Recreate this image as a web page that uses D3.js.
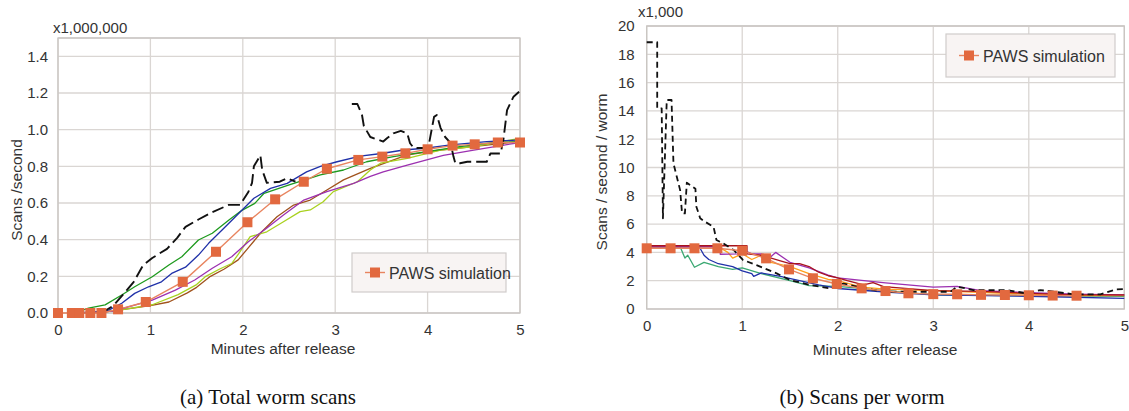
<!DOCTYPE html>
<html><head><meta charset="utf-8">
<script src="https://cdn.jsdelivr.net/npm/d3@7"></script>
<style>
body{margin:0;background:#fff;}
svg text{font-family:"Liberation Sans",Arial,Helvetica,sans-serif;}
</style></head>
<body><svg id="c" width="1129" height="411"></svg>
<script>
// ---------- Chart (a): total worm scans (x1,000,000) ----------
const aXTicks = [0,1,2,3,4,5];
const aYTicks = [0,0.2,0.4,0.6,0.8,1.0,1.2,1.4];
const aPaws = [[0,0],[0.15,0],[0.23,0],[0.35,0],[0.47,0],[0.65,0.02],[0.95,0.06],[1.35,0.17],[1.71,0.334],[2.05,0.495],[2.35,0.62],[2.66,0.716],[2.91,0.787],[3.25,0.835],[3.51,0.853],[3.76,0.871],[4.0,0.893],[4.27,0.913],[4.51,0.92],[4.76,0.93],[5.0,0.93]];
const aBlack = [[0.47,0],[0.6,0.04],[0.73,0.116],[0.82,0.17],[0.92,0.26],[1.02,0.30],[1.18,0.35],[1.29,0.41],[1.38,0.47],[1.52,0.51],[1.67,0.55],[1.85,0.59],[1.97,0.59],[2.06,0.66],[2.1,0.71],[2.12,0.80],[2.19,0.86],[2.21,0.78],[2.26,0.71],[2.40,0.716],[2.48,0.735],[2.57,0.716],null,[3.18,1.14],[3.24,1.14],[3.29,1.08],[3.31,1.02],[3.38,0.96],[3.52,0.935],[3.56,0.953],[3.63,0.98],[3.71,0.993],[3.78,0.98],[3.81,0.926],[3.85,0.90],[3.96,0.90],[4.01,0.91],[4.07,1.07],[4.10,1.08],[4.14,1.01],[4.19,0.96],[4.25,0.926],[4.28,0.853],[4.30,0.817],[4.35,0.817],[4.43,0.825],[4.64,0.825],[4.68,0.87],[4.79,0.87],[4.82,0.944],[4.86,1.107],[4.93,1.18],[4.99,1.207]];
const aBlue = [[0.15,0],[0.4,0.005],[0.55,0.016],[0.69,0.053],[0.83,0.107],[0.98,0.143],[1.12,0.17],[1.23,0.216],[1.38,0.25],[1.52,0.316],[1.63,0.38],[1.77,0.45],[1.92,0.525],[2.12,0.626],[2.3,0.68],[2.48,0.707],[2.69,0.77],[2.84,0.80],[3.02,0.825],[3.27,0.856],[3.5,0.87],[3.74,0.889],[4.0,0.90],[4.25,0.917],[4.64,0.935],[5.0,0.944]];
const aGreen = [[0.18,0],[0.33,0.026],[0.51,0.044],[0.69,0.098],[0.83,0.143],[1.02,0.198],[1.20,0.262],[1.34,0.307],[1.52,0.398],[1.67,0.435],[1.85,0.507],[1.99,0.56],[2.13,0.598],[2.23,0.653],[2.51,0.70],[2.84,0.753],[3.09,0.78],[3.34,0.825],[3.63,0.853],[3.99,0.88],[4.35,0.907],[4.72,0.93],[5.0,0.935]];
const aPurple = [[0.2,0],[0.6,0.01],[1.02,0.07],[1.27,0.125],[1.48,0.18],[1.67,0.244],[1.88,0.307],[2.06,0.389],[2.25,0.46],[2.44,0.535],[2.66,0.616],[2.91,0.662],[3.2,0.707],[3.38,0.745],[3.52,0.77],[3.78,0.807],[4.17,0.86],[4.50,0.889],[5.0,0.93]];
const aYellow = [[0.2,0],[0.6,0.01],[1.02,0.045],[1.3,0.10],[1.5,0.155],[1.6,0.2],[1.75,0.24],[1.88,0.27],[1.95,0.32],[2.08,0.416],[2.26,0.443],[2.44,0.498],[2.62,0.553],[2.73,0.562],[2.87,0.607],[2.98,0.662],[3.24,0.716],[3.38,0.78],[3.49,0.817],[3.78,0.844],[4.14,0.889],[4.5,0.907],[5.0,0.953]];
const aBrown = [[0.2,0],[0.5,0.005],[1.0,0.04],[1.2,0.06],[1.4,0.11],[1.5,0.14],[1.65,0.2],[1.8,0.24],[1.95,0.29],[2.05,0.35],[2.2,0.44],[2.37,0.525],[2.55,0.589],[2.73,0.616],[2.91,0.671],[3.09,0.726],[3.38,0.789],[3.78,0.862],[4.14,0.889],[5.0,0.935]];

// ---------- Chart (b): scans per worm (x1,000) ----------
const bXTicks = [0,1,2,3,4,5];
const bYTicks = [0,2,4,6,8,10,12,14,16,18,20];
const bPaws = [[0,4.29],[0.25,4.29],[0.5,4.29],[0.74,4.29],[1.0,4.12],[1.25,3.58],[1.49,2.8],[1.74,2.17],[1.99,1.77],[2.25,1.46],[2.5,1.27],[2.74,1.11],[3.0,1.05],[3.25,1.04],[3.5,1.0],[3.75,0.99],[4.0,0.97],[4.25,0.95],[4.5,0.94]];
const bBlack = [[0,18.85],[0.11,18.85],[0.11,14.18],[0.157,14.18],[0.17,6.41],[0.21,14.77],[0.26,14.77],[0.28,10.3],[0.35,8.4],[0.37,6.76],[0.40,6.76],[0.42,8.93],[0.51,8.5],[0.52,7.23],[0.56,6.41],[0.61,6.17],[0.70,5.8],[0.73,4.88],[0.80,4.64],[0.91,4.17],[1.01,3.46],[1.15,3.1],[1.36,2.52],[1.5,2.05],[1.71,1.70],[1.92,1.46],[2.06,1.8],[2.25,1.5],[2.48,1.22],[2.72,1.22],[3.18,1.22],[3.25,1.58],[3.42,1.34],[3.77,1.34],[3.98,1.1],[4.12,1.34],[4.47,1.04],[4.75,1.04],[4.92,1.39],[5.0,1.41]];
const bDarkRed = [[0,4.47],[1.05,4.47],[1.05,3.9],[1.2,3.8],[1.4,3.4],[1.5,3.2],[1.6,3.2],[1.7,3.0],[1.8,2.6],[1.9,2.35],[2.0,2.2],[2.1,2.0],[2.27,1.7],[2.37,1.86],[2.48,1.58],[3.0,1.3],[3.5,1.25],[4.0,1.1],[4.5,1.0],[5.0,1.0]];
const bPurple = [[0,4.4],[0.77,4.4],[0.77,3.87],[0.95,3.9],[1.0,4.2],[1.1,3.9],[1.2,3.9],[1.3,3.7],[1.35,4.0],[1.5,3.3],[1.7,2.9],[1.9,2.4],[2.0,2.2],[2.5,1.85],[3.0,1.55],[3.25,1.6],[3.5,1.3],[4.0,1.15],[4.5,1.05],[5.0,1.0]];
const bOrange = [[0,4.4],[0.75,4.4],[0.85,4.0],[0.9,3.6],[1.0,3.9],[1.1,3.5],[1.2,3.8],[1.3,3.3],[1.5,3.0],[1.7,2.5],[1.9,2.1],[2.0,2.0],[2.25,1.55],[2.5,1.4],[3.0,1.3],[4.0,1.05],[4.5,0.95],[5.0,0.95]];
const bTeal = [[0,4.4],[0.35,4.4],[0.4,3.6],[0.43,3.8],[0.5,2.95],[0.6,3.3],[0.75,3.0],[0.9,2.8],[1.0,2.9],[1.2,2.5],[1.5,2.0],[1.7,1.65],[2.0,1.6],[2.5,1.3],[3.0,1.0],[4.0,0.95],[5.0,0.9]];
const bBlue = [[0,4.4],[0.55,4.4],[0.6,3.8],[0.65,3.5],[0.75,3.2],[0.9,3.0],[1.0,2.7],[1.1,2.5],[1.12,2.3],[1.2,2.55],[1.4,2.3],[1.6,2.0],[1.8,1.7],[2.0,1.45],[2.5,1.2],[3.0,1.0],[4.0,0.9],[5.0,0.75]];

const legendLabel = "PAWS simulation";

const svg = d3.select("#c");
const gridCol = "#dad6d3", frameCol = "#c9c5c2", txtCol = "#333";

function panel(cfg){
  const x = d3.scaleLinear().domain([0,5]).range(cfg.xr);
  const y = d3.scaleLinear().domain(cfg.yd).range(cfg.yr);
  const g = svg.append("g");
  g.selectAll(".gx").data(cfg.xt).join("line")
    .attr("x1",d=>x(d)).attr("x2",d=>x(d)).attr("y1",cfg.yr[0]).attr("y2",cfg.yr[1])
    .attr("stroke",gridCol).attr("stroke-width",1.3);
  g.selectAll(".gy").data(cfg.yt.concat([cfg.yd[1]])).join("line")
    .attr("x1",cfg.xr[0]).attr("x2",cfg.xr[1]).attr("y1",d=>y(d)).attr("y2",d=>y(d))
    .attr("stroke",gridCol).attr("stroke-width",1.3);
  g.append("rect").attr("x",cfg.xr[0]).attr("y",cfg.yr[1]).attr("width",cfg.xr[1]-cfg.xr[0]).attr("height",cfg.yr[0]-cfg.yr[1])
    .attr("fill","none").attr("stroke",frameCol).attr("stroke-width",1.3);
  const xa = g.append("g").attr("transform",`translate(0,${cfg.yr[0]})`)
    .call(d3.axisBottom(x).tickValues(cfg.xt).tickFormat(d3.format("d")).tickSize(0).tickPadding(cfg.xpad));
  const ya = g.append("g").attr("transform",`translate(${cfg.xr[0]},0)`)
    .call(d3.axisLeft(y).tickValues(cfg.yt).tickFormat(cfg.yf).tickSize(0).tickPadding(cfg.ypad));
  [xa,ya].forEach(a=>{a.select(".domain").remove();
    a.selectAll("text").attr("fill",txtCol).style("font-size","15px").style("font-family","'Liberation Sans',Arial,sans-serif");});
  const line = d3.line().defined(d=>d!==null).x(d=>x(d[0])).y(d=>y(d[1]));
  cfg.series.forEach(s=>{
    g.append("path").datum(s.data).attr("d",line).attr("fill","none")
      .attr("stroke",s.color).attr("stroke-width",s.w||1.3)
      .attr("stroke-dasharray",s.dash||null).attr("stroke-linejoin","round");
  });
  g.append("path").datum(cfg.paws).attr("d",line).attr("fill","none").attr("stroke","#e8845f").attr("stroke-width",1.4);
  g.selectAll(".m").data(cfg.paws).join("rect")
    .attr("x",d=>x(d[0])-5).attr("y",d=>y(d[1])-5).attr("width",10).attr("height",10).attr("fill","#e2693f");
  g.append("text").attr("x",cfg.mult[0]).attr("y",cfg.mult[1]).text(cfg.mult[2]).attr("fill",txtCol).style("font-size","15px");
  g.append("text").attr("x",cfg.xt_pos[0]).attr("y",cfg.xt_pos[1]).attr("text-anchor","middle").text("Minutes after release").attr("fill",txtCol).style("font-size","15.5px");
  g.append("text").attr("transform",`translate(${cfg.yt_pos[0]},${cfg.yt_pos[1]}) rotate(-90)`).attr("text-anchor","middle").text(cfg.ytitle).attr("fill",txtCol).style("font-size","15.5px");
  const L = cfg.leg;
  g.append("rect").attr("x",L[0]).attr("y",L[1]).attr("width",L[2]).attr("height",L[3]).attr("fill","#f8f4f3").attr("stroke","#d0cccb").attr("stroke-width",1.2);
  const ly = L[1]+L[3]/2;
  g.append("line").attr("x1",L[0]+13).attr("x2",L[0]+33).attr("y1",ly).attr("y2",ly).attr("stroke","#e8845f").attr("stroke-width",1.4);
  g.append("rect").attr("x",L[0]+18).attr("y",ly-5).attr("width",10).attr("height",10).attr("fill","#e2693f");
  g.append("text").attr("x",L[0]+37).attr("y",ly+6).text(legendLabel).attr("fill",txtCol).style("font-size","16px");
  g.append("text").attr("x",cfg.cap[0]).attr("y",cfg.cap[1]).attr("text-anchor","middle").text(cfg.cap[2])
    .style("font-family","'Liberation Serif','Times New Roman',serif").style("font-size","21px").attr("fill","#111");
}

panel({xr:[58,520], yd:[0,1.5], yr:[313,38], xt:aXTicks, yt:aYTicks, yf:d3.format(".1f"), xpad:11, ypad:10,
  paws:aPaws,
  series:[
    {data:aBrown,color:"#a0521c"},
    {data:aYellow,color:"#a9d11f"},
    {data:aPurple,color:"#9c30b0"},
    {data:aGreen,color:"#1e9a1e"},
    {data:aBlue,color:"#1f30a8"},
    {data:aBlack,color:"#111",w:1.9,dash:"12,5"}
  ],
  mult:[53,33,"x1,000,000"], xt_pos:[283,354], yt_pos:[22,190], ytitle:"Scans /second",
  leg:[352,253,154,39], cap:[268,404,"(a)  Total worm scans"]});

panel({xr:[646.7,1124.3], yd:[0,20], yr:[309,26], xt:bXTicks, yt:bYTicks, yf:d3.format("d"), xpad:11, ypad:12,
  paws:bPaws,
  series:[
    {data:bTeal,color:"#3aa872"},
    {data:bBlue,color:"#1f30a8"},
    {data:bOrange,color:"#ffa019"},
    {data:bPurple,color:"#9c30b0"},
    {data:bDarkRed,color:"#a8141c"},
    {data:bBlack,color:"#111",w:1.8,dash:"6,4"}
  ],
  mult:[638,17,"x1,000"], xt_pos:[885,355], yt_pos:[607,172], ytitle:"Scans / second / worm",
  leg:[946,34,169,43], cap:[862,404,"(b)  Scans per worm"]});
</script></body></html>
